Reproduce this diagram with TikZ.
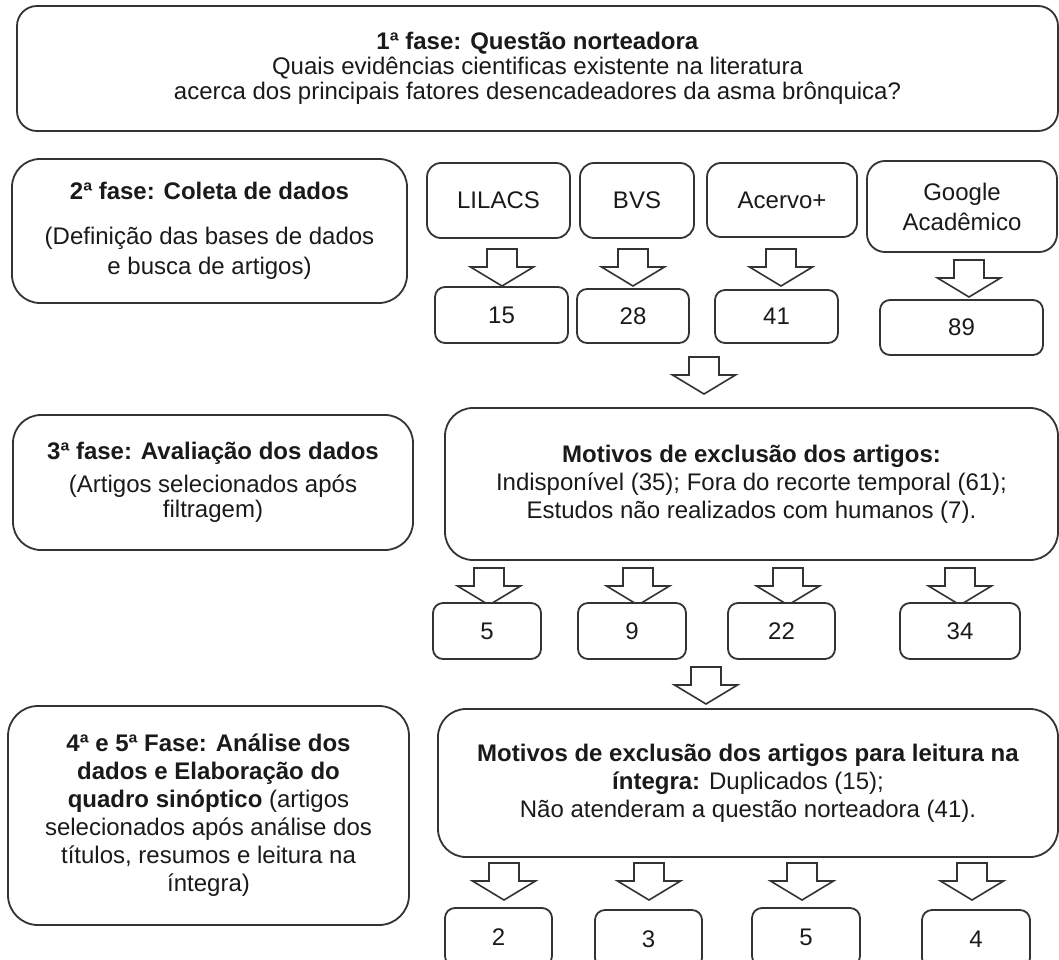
\documentclass[tikz,border=0pt]{standalone}
\usepackage{fontspec}
\setmainfont{Liberation Sans}
\definecolor{ln}{HTML}{333333}
\definecolor{tx}{HTML}{1A1A1A}
\tikzset{
  box/.style={draw=ln, line width=1.8pt, fill=white, inner sep=0pt, align=center, text=tx,
    font=\fontsize{24}{28}\selectfont},
  bigbox/.style={box, rounded corners=28pt},
  dbbox/.style={box, rounded corners=14pt},
  numbox/.style={box, rounded corners=10pt},
  arr/.style={draw=ln, line width=1.6pt, fill=white, line join=miter},
  barrow/.pic={\draw[arr] (-15,0) -- (-15,18) -- (-31.5,18) -- (0,37) -- (31.5,18) -- (15,18) -- (15,0) -- cycle;}
}
\begin{document}
\begin{tikzpicture}[x=1pt,y=-1pt]
\useasboundingbox (0,0) rectangle (1059,960);
\clip (0,0) rectangle (1059,960);
\fill[white] (0,0) rectangle (1059,960);

% Phase 1
\node[bigbox, rounded corners=20pt, minimum width=1041pt, minimum height=125pt,
  font=\fontsize{24}{25}\selectfont] (p1) at (537.5,68.5)
  {\textbf{1ª fase: Questão norteadora}\\Quais evidências cientificas existente na literatura\\acerca dos principais fatores desencadeadores da asma brônquica?};

% Phase 2
\node[bigbox, minimum width=395pt, minimum height=144pt,
  font=\fontsize{24}{30}\selectfont] (p2) at (209.5,231)
  {\textbf{2ª fase: Coleta de dados}\\[15pt](Definição das bases de dados\\e busca de artigos)};

\node[dbbox, minimum width=143pt, minimum height=75pt] (lil) at (498.5,200.5) {LILACS};
\node[dbbox, minimum width=114pt, minimum height=75pt] (bvs) at (637,200.5) {BVS};
\node[dbbox, minimum width=150pt, minimum height=74pt] (ace) at (782,200) {Acervo+};
\node[dbbox, rounded corners=18pt, minimum width=190pt, minimum height=91pt,
  font=\fontsize{24}{30}\selectfont] (goo) at (962,206.5) {Google\\Acadêmico};

\pic at (502,249) {barrow};
\pic at (633,249) {barrow};
\pic at (781,249) {barrow};
\pic at (969,260) {barrow};

\node[numbox, minimum width=133pt, minimum height=56pt] (n15) at (501.5,315) {15};
\node[numbox, minimum width=112pt, minimum height=54pt] (n28) at (633,316) {28};
\node[numbox, minimum width=123pt, minimum height=53pt] (n41) at (776.5,316.5) {41};
\node[numbox, minimum width=163pt, minimum height=55pt] (n89) at (961.5,327.5) {89};

\pic at (704,357) {barrow};

% Phase 3
\node[bigbox, minimum width=400pt, minimum height=135pt,
  font=\fontsize{24}{25}\selectfont] (p3) at (213,482.5)
  {\textbf{3ª fase: Avaliação dos dados}\\[8pt](Artigos selecionados após\\filtragem)};

\node[bigbox, minimum width=613pt, minimum height=152pt] (m1) at (751.5,484)
  {\textbf{Motivos de exclusão dos artigos:}\\Indisponível (35); Fora do recorte temporal (61);\\Estudos não realizados com humanos (7).};

\pic at (489,568) {barrow};
\pic at (638,568) {barrow};
\pic at (788,568) {barrow};
\pic at (960,568) {barrow};

\node[numbox, minimum width=108pt, minimum height=56pt] (n5) at (487,631) {5};
\node[numbox, minimum width=108pt, minimum height=56pt] (n9) at (632,631) {9};
\node[numbox, minimum width=107pt, minimum height=56pt] (n22) at (781.5,631) {22};
\node[numbox, minimum width=120pt, minimum height=56pt] (n34) at (960,631) {34};

\pic at (706,667) {barrow};

% Phase 4 and 5
\node[bigbox, rounded corners=30pt, minimum width=401pt, minimum height=219pt] (p4) at (208.5,815.5)
  {\textbf{4ª e 5ª Fase: Análise dos}\\\textbf{dados e Elaboração do}\\\textbf{quadro sinóptico} (artigos\\selecionados após análise dos\\títulos, resumos e leitura na\\íntegra)};

\node[bigbox, minimum width=620pt, minimum height=148pt] (m2) at (748,783)
  {\textbf{Motivos de exclusão dos artigos para leitura na}\\\textbf{íntegra:} Duplicados (15);\\Não atenderam a questão norteadora (41).};

\pic at (504,863) {barrow};
\pic at (649,863) {barrow};
\pic at (802,863) {barrow};
\pic at (972,863) {barrow};

\node[numbox, minimum width=107pt, minimum height=58pt] (b2) at (498.5,937) {2};
\node[numbox, minimum width=107pt, minimum height=58pt] (b3) at (648.5,939) {3};
\node[numbox, minimum width=108pt, minimum height=58pt] (b5) at (806,937) {5};
\node[numbox, minimum width=108pt, minimum height=58pt] (b4) at (976,939) {4};
\end{tikzpicture}
\end{document}
